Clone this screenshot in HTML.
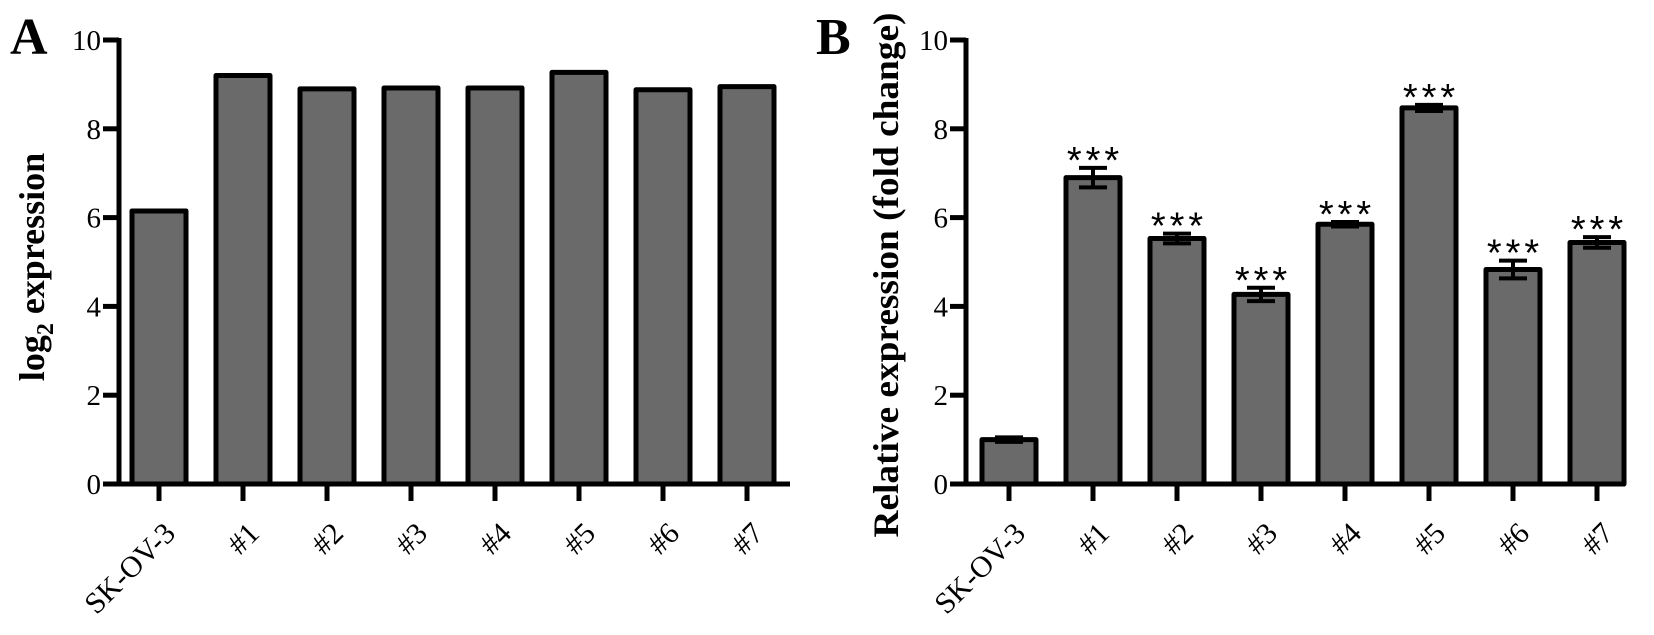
<!DOCTYPE html>
<html><head><meta charset="utf-8"><style>
html,body{margin:0;padding:0;background:#fff;}
svg{display:block;font-family:"Liberation Serif",serif;}
</style></head><body>
<svg id="chart" width="1654" height="635" viewBox="0 0 1654 635" xmlns="http://www.w3.org/2000/svg">
<text x="10" y="54" font-size="52" font-weight="bold">A</text>
<text x="816" y="54" font-size="52" font-weight="bold">B</text>
<text transform="translate(44,267) rotate(-90)" text-anchor="middle" font-size="36" font-weight="bold">log<tspan font-size="24" dy="9">2</tspan><tspan dy="-9"> expression</tspan></text>
<text transform="translate(898,275) rotate(-90)" text-anchor="middle" font-size="36" font-weight="bold" textLength="525" lengthAdjust="spacingAndGlyphs">Relative expression (fold change)</text>
<g id="pa"></g>
<g id="pb"></g>
</svg>
<script>
const categories = ["SK-OV-3","#1","#2","#3","#4","#5","#6","#7"];
const valuesA = [6.15, 9.2, 8.9, 8.92, 8.92, 9.27, 8.88, 8.95];
const valuesB = [1.0, 6.9, 5.53, 4.27, 5.85, 8.47, 4.83, 5.44];
const errorsB = [0.05, 0.22, 0.11, 0.15, 0.05, 0.07, 0.2, 0.12];
const starsB = ["", "***","***","***","***","***","***","***"];
const yTicks = [0, 2, 4, 6, 8, 10];

const NS = "http://www.w3.org/2000/svg";
function mk(tag, attrs, parent){ const e=document.createElementNS(NS,tag); for(const k in attrs) e.setAttribute(k,attrs[k]); parent.appendChild(e); return e; }
const y0 = 484, y10 = 40;
function yScale(v){ return y0 - v*(y0-y10)/10; }

function panel(g, axisX, firstX, axisEnd, values, errors, stars, tag){
  const xScale = i => firstX + i*84;
  const bw = 54;
  yTicks.forEach(t=>{
    const y = yScale(t);
    const tk = mk("line",{x1:axisX-16,x2:axisX,y1:y,y2:y,stroke:"#000","stroke-width":5},g);
    
    
    const tl = mk("text",{x:axisX-18,y:y+10,"text-anchor":"end","font-size":29},g);
    tl.textContent = t;
    
    
  });
  values.forEach((v,i)=>{
    const cx = xScale(i);
    const r = mk("rect",{x:cx-bw/2,y:yScale(v),width:bw,height:y0-yScale(v),fill:"#6a6a6a",stroke:"#000","stroke-width":5,"stroke-linejoin":"round"},g);
    
    
    const xt = mk("line",{x1:cx,x2:cx,y1:y0,y2:y0+17,stroke:"#000","stroke-width":5},g);
    
    
    const lab = mk("text",{transform:`translate(${cx+18},${535}) rotate(-45)`,"text-anchor":"end","font-size":30},g);
    lab.textContent = categories[i];
    
    
    if(errors){
      const e = errors[i];
      const eg = mk("path",{d:`M${cx-14},${yScale(v+e)}H${cx+14}M${cx},${yScale(v+e)}V${yScale(v-e)}M${cx-14},${yScale(v-e)}H${cx+14}`,stroke:"#000","stroke-width":4,fill:"none"},g);
      
      
      if(stars[i]){
        const s = mk("text",{x:cx+2,y:yScale(v+e)+5,"text-anchor":"middle","font-size":38,"letter-spacing":"4","font-family":"Liberation Sans, sans-serif"},g);
        s.textContent = stars[i];
        
        
      }
    }
  });
  const ax = mk("path",{d:`M${axisX},${y10-2}V${y0}H${axisEnd}`,stroke:"#000","stroke-width":5,fill:"none"},g);
  
  
}
panel(document.getElementById("pa"),119,159,790,valuesA,null,null,"a");
panel(document.getElementById("pb"),966,1009,1625,valuesB,errorsB,starsB,"b");
</script>
</body></html>
